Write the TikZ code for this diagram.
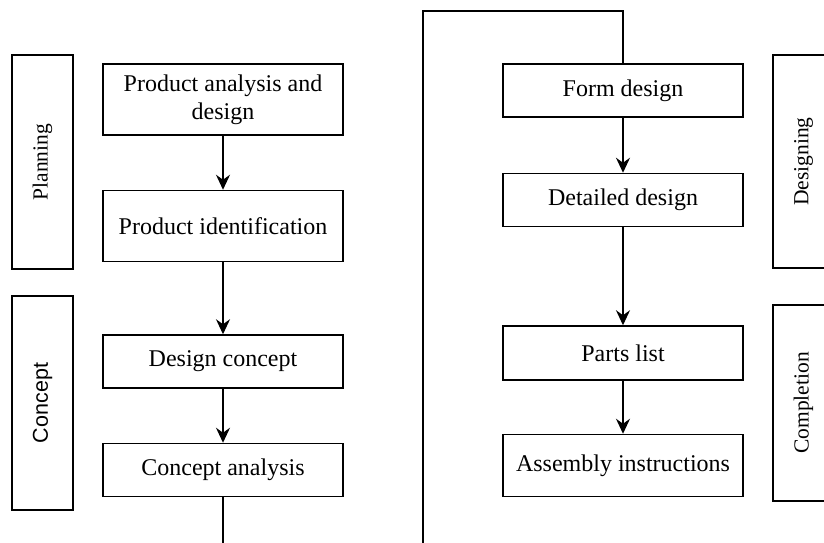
\documentclass[tikz,border=0pt]{standalone}
\usepackage{fontspec}
\setmainfont{Liberation Serif}
\newfontfamily\arialfont{Liberation Sans}
\usetikzlibrary{arrows.meta,positioning}

\begin{document}
\begin{tikzpicture}[
  x=1pt, y=1pt,
  box/.style={draw, line width=1.5pt, minimum width=240pt, align=center, inner sep=2pt, font=\fontsize{24}{28}\selectfont},
  phase/.style={draw, line width=1.5pt, minimum height=61pt, rotate=90, inner sep=2pt, font=\fontsize{21.5}{25}\selectfont},
  arr/.style={-{Stealth[length=15pt,width=14pt,inset=5pt]}, line width=1.5pt},
  wire/.style={line width=1.5pt},
]
  \useasboundingbox (0,0) rectangle (824,-542);
  \clip (0,0) rectangle (824,-542);

  % left column
  \node[box, minimum height=71pt] (pa) at (223,-99.5) {Product analysis and\\ design};
  \node[box, minimum height=71pt, below=54pt of pa] (pi) {Product identification};
  \node[box, minimum height=53pt, below=72pt of pi] (dc) {Design concept};
  \node[box, minimum height=53pt, below=54pt of dc] (ca) {Concept analysis};

  % right column
  \node[box, minimum height=53pt] (fd) at (623,-90.5) {Form design};
  \node[box, minimum height=53pt, below=55pt of fd] (dd) {Detailed design};
  \node[box, minimum height=54pt, below=98pt of dd] (pl) {Parts list};
  \node[box, minimum height=62pt, below=53pt of pl] (ai) {Assembly instructions};

  % phases
  \node[phase, minimum width=214pt] (plan) at (42.5,-162) {Planning};
  \node[phase, minimum width=214pt, font=\arialfont\fontsize{21.5}{25}\selectfont] (conc) at (42.5,-403) {Concept};
  \node[phase, minimum width=213pt] (desg) at (803.5,-161.5) {Designing};
  \node[phase, minimum width=196pt] (compl) at (803.5,-403) {Completion};

  \draw[arr] (pa) -- (pi);
  \draw[arr] (pi) -- (dc);
  \draw[arr] (dc) -- (ca);
  \draw[arr] (fd) -- (dd);
  \draw[arr] (dd) -- (pl);
  \draw[arr] (pl) -- (ai);

  % link between the columns
  \coordinate (low) at (423,-560);
  \coordinate (high) at (423,-11);
  \draw[wire] (ca.south) |- (low) |- (high) -| (fd.north);
\end{tikzpicture}
\end{document}
